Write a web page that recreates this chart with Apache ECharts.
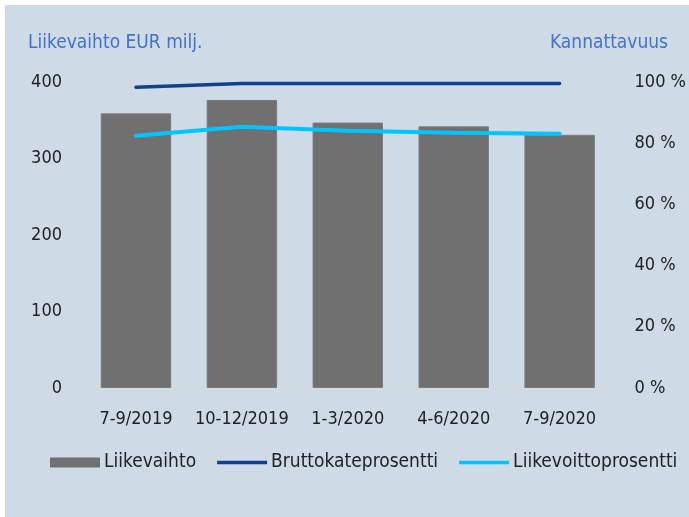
<!DOCTYPE html>
<html>
<head>
<meta charset="utf-8">
<script src="https://cdn.jsdelivr.net/npm/echarts@6/dist/echarts.min.js"></script>
<style>
  html, body { margin: 0; padding: 0; background: #ffffff; }
  #panel { position: absolute; left: 5px; top: 5px; right: 0; bottom: 0; background: #cedae6; }
  #chart1 { position: absolute; left: 0; top: 0; width: 689px; height: 517px; }
</style>
</head>
<body>
<div id="panel"></div>
<div id="chart1"></div>
<script>
  var quarters = ['7-9/2019', '10-12/2019', '1-3/2020', '4-6/2020', '7-9/2020'];
  var liikevaihto = [359, 376.5, 347, 342, 331];          // EUR milj.
  var bruttokate = [98.3, 99.5, 99.5, 99.5, 99.5];        // %
  var liikevoitto = [82.4, 85.4, 84.1, 83.4, 83.1];       // %
  var leftTicks = { min: 0, max: 400, interval: 100 };
  var rightTicks = { min: 0, max: 100, interval: 20 };

  var fontName = "'DejaVu Sans Condensed', 'DejaVu Sans', sans-serif";
  var textColor = '#222222';
  var lineIcon = 'path://M0,0H50V3.5H0Z';

  // liikevaihto + kannattavuus yhdistelmäkaavio
  const getSalesProfitChart = chartId => {
    let myChart = echarts.init(document.getElementById(chartId));
    let option;

    option = {
      backgroundColor: 'transparent',
      textStyle: { fontFamily: fontName },
      title: [
        {
          text: 'Liikevaihto EUR milj.',
          left: 28,
          top: 34,
          padding: 0,
          textStyle: { color: '#4472c4', fontSize: 19, fontWeight: 'normal', fontFamily: fontName }
        },
        {
          text: 'Kannattavuus',
          right: 21,
          top: 34,
          padding: 0,
          textStyle: { color: '#4472c4', fontSize: 19, fontWeight: 'normal', fontFamily: fontName }
        }
      ],
      legend: {
        left: 50,
        top: 453,
        padding: 0,
        itemWidth: 50,
        itemHeight: 10,
        itemGap: 21,
        symbolKeepAspect: true,
        textStyle: { color: textColor, fontSize: 19, fontFamily: fontName, padding: [0, 0, 0, -1] },
        data: [
          { name: 'Liikevaihto', icon: 'rect', itemStyle: { borderWidth: 0 } },
          { name: 'Bruttokateprosentti', icon: lineIcon },
          { name: 'Liikevoittoprosentti', icon: lineIcon }
        ]
      },
      grid: {
        left: 83,
        right: 76,
        top: 82,
        bottom: 129
      },
      xAxis: {
        type: 'category',
        data: quarters,
        axisTick: { show: false },
        axisLine: { lineStyle: { color: '#d9d9d9', width: 1.5 } },
        axisLabel: { color: textColor, fontSize: 18, margin: 22, interval: 0, fontFamily: fontName }
      },
      yAxis: [
        {
          type: 'value',
          min: leftTicks.min,
          max: leftTicks.max,
          interval: leftTicks.interval,
          splitLine: { show: false },
          axisLine: { show: false },
          axisTick: { show: false },
          axisLabel: { color: textColor, fontSize: 18, margin: 21, fontFamily: fontName }
        },
        {
          type: 'value',
          min: rightTicks.min,
          max: rightTicks.max,
          interval: rightTicks.interval,
          splitLine: { show: false },
          axisLine: { show: false },
          axisTick: { show: false },
          axisLabel: { color: textColor, fontSize: 18, margin: 22, fontFamily: fontName, formatter: '{value} %' }
        }
      ],
      series: [
        {
          name: 'Liikevaihto',
          type: 'bar',
          barWidth: '66.5%',
          itemStyle: { color: '#707071', borderColor: '#7d7d7e', borderWidth: 1 },
          data: liikevaihto
        },
        {
          name: 'Bruttokateprosentti',
          type: 'line',
          yAxisIndex: 1,
          symbol: 'none',
          lineStyle: { color: '#123f8e', width: 3.5, cap: 'round' },
          itemStyle: { color: '#123f8e' },
          data: bruttokate
        },
        {
          name: 'Liikevoittoprosentti',
          type: 'line',
          yAxisIndex: 1,
          symbol: 'none',
          lineStyle: { color: '#00c6ff', width: 4, cap: 'round' },
          itemStyle: { color: '#00c6ff' },
          data: liikevoitto
        }
      ]
    };

    option && myChart.setOption(option);
  }

  getSalesProfitChart('chart1');
</script>
</body>
</html>
